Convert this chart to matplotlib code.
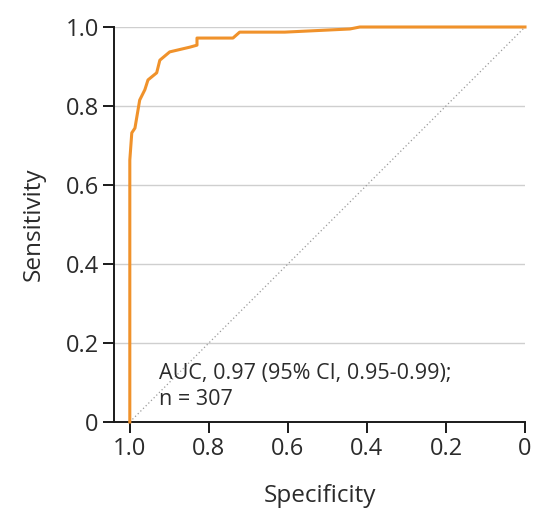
import matplotlib
matplotlib.use("Agg")
import matplotlib.pyplot as plt

plt.rcParams['font.family'] = ['Open Sans', 'DejaVu Sans']

# ROC curve vertices (specificity, sensitivity)
specificity = [1.0, 1.0, 0.995, 0.987, 0.975, 0.962, 0.954, 0.932, 0.929, 0.924,
               0.899, 0.848, 0.830, 0.830, 0.739, 0.722, 0.608, 0.443, 0.418, 0.0]
sensitivity = [0.0, 0.663, 0.732, 0.744, 0.815, 0.841, 0.866, 0.884, 0.896, 0.916,
               0.937, 0.949, 0.954, 0.972, 0.972, 0.987, 0.987, 0.995, 1.0, 1.0]

tick_values = [1.0, 0.8, 0.6, 0.4, 0.2, 0.0]
tick_labels = ["1.0", "0.8", "0.6", "0.4", "0.2", "0"]
ytick_values = [0.0, 0.2, 0.4, 0.6, 0.8, 1.0]
ytick_labels = ["0", "0.2", "0.4", "0.6", "0.8", "1.0"]

annotation = "AUC, 0.97 (95% CI, 0.95-0.99);\nn = 307"

text_color = "#2b2b2b"
curve_color = "#F0922B"

fig = plt.figure(figsize=(5.38, 5.11), dpi=100)
ax = fig.add_axes([114 / 538, 1 - 422 / 511, (525 - 114) / 538, (422 - 27) / 511])

for y in ytick_values[1:]:
    ax.axhline(y, color="#cfcfcf", lw=1.0, zorder=1)

ax.plot([1, 0], [0, 1], color="#9a9a9a", lw=0.9, ls=(0, (1, 2)), zorder=2)
ax.plot(specificity, sensitivity, color=curve_color, lw=2.2, zorder=3,
        solid_joinstyle="round", clip_on=False)

ax.set_xlim(1.04, 0.0)
ax.set_ylim(0.0, 1.0)

ax.set_xticks(tick_values)
ax.set_xticklabels(tick_labels)
ax.set_yticks(ytick_values)
ax.set_yticklabels(ytick_labels)

for side in ("top", "right"):
    ax.spines[side].set_visible(False)
for side in ("left", "bottom"):
    ax.spines[side].set_linewidth(1.4)
    ax.spines[side].set_color("#1a1a1a")

ax.tick_params(axis="both", direction="out", length=8, width=1.4, color="#1a1a1a",
               labelsize=17, labelcolor=text_color, pad=3)

ax.set_xlabel("Specificity", fontsize=17.5, color=text_color, labelpad=16)
ax.set_ylabel("Sensitivity", fontsize=17.5, color=text_color, labelpad=14)

ax.text(0.925, 0.15, annotation, fontsize=15.5, color=text_color,
        ha="left", va="top", linespacing=1.3, zorder=4)

fig.savefig("out.png", dpi=100)
